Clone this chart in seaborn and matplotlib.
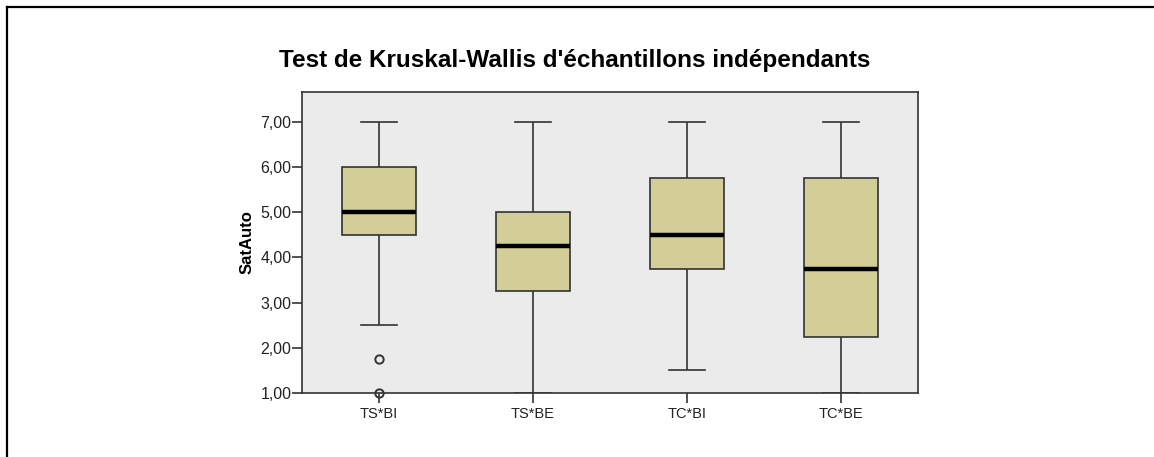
import pandas as pd
import seaborn as sns
import matplotlib.pyplot as plt
from matplotlib.lines import Line2D
from matplotlib.ticker import FuncFormatter

# Groupes et valeurs de SatAuto
groupes = ['TS*BI', 'TS*BE', 'TC*BI', 'TC*BE']
ts_bi = [1.0, 1.75, 2.5, 4.5, 4.75, 5.0, 5.0, 5.25, 5.5, 6.0, 6.5, 7.0, 7.0]
ts_be = [1.0, 2.0, 3.25, 4.0, 4.25, 4.5, 5.0, 6.0, 7.0]
tc_bi = [1.5, 3.0, 3.75, 4.0, 4.5, 5.0, 5.75, 6.5, 7.0]
tc_be = [1.0, 2.0, 2.25, 3.0, 3.75, 4.5, 5.75, 6.5, 7.0]
y_ticks = [1, 2, 3, 4, 5, 6, 7]

df = pd.concat([
    pd.DataFrame({'Groupe': g, 'SatAuto': v})
    for g, v in zip(groupes, [ts_bi, ts_be, tc_bi, tc_be])
], ignore_index=True)

plt.rcParams['font.family'] = ['Liberation Sans', 'DejaVu Sans']

fig = plt.figure(figsize=(11.54, 4.57), dpi=100)
ax = fig.add_axes([302 / 1154, 1 - 393 / 457, 616 / 1154, 301 / 457])
ax.set_facecolor('#EBEBEB')

ligne = '#333333'
sns.boxplot(data=df, x='Groupe', y='SatAuto', order=groupes, ax=ax,
            color='#D3CE97', saturation=1, width=0.48, whis=1.5,
            linecolor=ligne, linewidth=1.2,
            medianprops={'color': 'black', 'linewidth': 3.2},
            flierprops={'marker': 'o', 'markersize': 6, 'markerfacecolor': 'none',
                        'markeredgecolor': ligne, 'markeredgewidth': 1.4,
                        'clip_on': False})

ax.set_xlim(-0.5, 3.5)
ax.set_ylim(1, 7.66)
ax.set_yticks(y_ticks)
ax.yaxis.set_major_formatter(FuncFormatter(lambda v, p: f'{v:.2f}'.replace('.', ',')))
for s in ax.spines.values():
    s.set_color(ligne)
    s.set_linewidth(1.2)
ax.tick_params(axis='both', direction='out', length=7, width=1.2, color=ligne,
               labelcolor='#222222')
ax.tick_params(axis='y', labelsize=11.5, pad=0.5)
ax.tick_params(axis='x', labelsize=10.5, pad=3)
ax.set_xlabel('')
ax.set_ylabel('SatAuto', fontsize=12, fontweight='bold', labelpad=4)

fig.text(575 / 1154, 1 - 61 / 457, "Test de Kruskal-Wallis d'échantillons indépendants",
         ha='center', va='center', fontsize=17.5, fontweight='bold')

# cadre de la figure (gauche et haut)
x0, y0 = 7 / 1154, 1 - 7 / 457
fig.add_artist(Line2D([x0, x0], [0, y0], color='black', linewidth=1.6))
fig.add_artist(Line2D([x0, 1], [y0, y0], color='black', linewidth=1.6))

fig.savefig('out.png', dpi=100)
